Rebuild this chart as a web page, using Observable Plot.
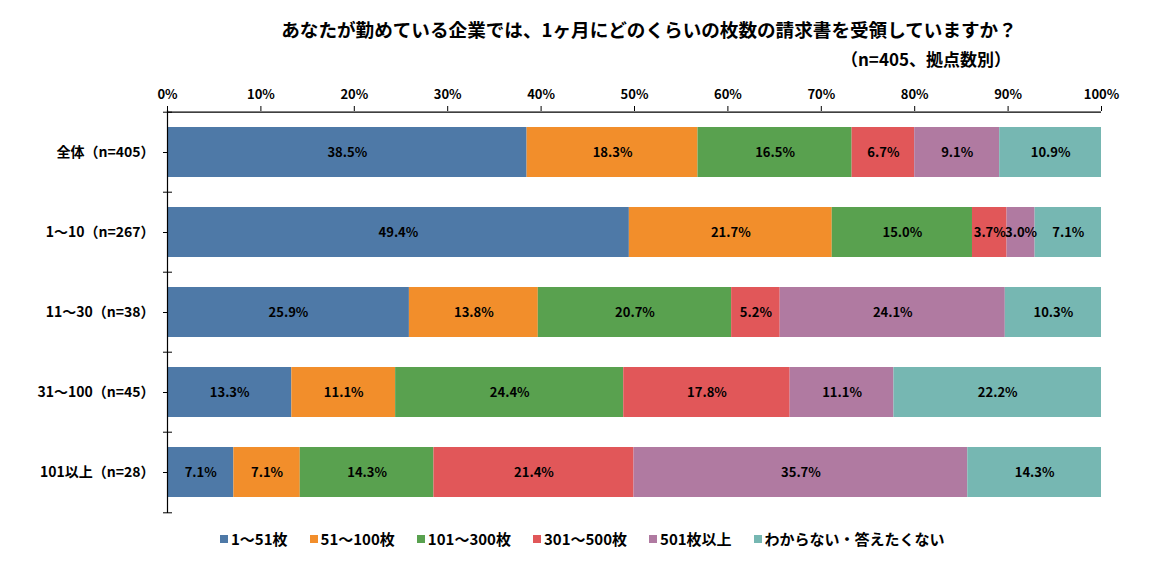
<!DOCTYPE html>
<html>
<head>
<meta charset="utf-8">
<script src="https://cdn.jsdelivr.net/npm/d3@7"></script>
<script src="https://cdn.jsdelivr.net/npm/@observablehq/plot@0.6"></script>
<style>
  body { margin: 0; background: #fff; font-family: "Noto Sans CJK JP", sans-serif; }
  #wrap { position: relative; width: 1171px; height: 588px; overflow: hidden; }
  #title { position: absolute; left: 0; top: 16px; width: 1298px; text-align: center;
           font-weight: bold; font-size: 18.6px; color: #000; line-height: 26px; }
  #subtitle { position: absolute; right: 160px; top: 46px; font-weight: bold;
              font-size: 17px; color: #000; line-height: 26px; }
  #chart { position: absolute; left: 0; top: 72px; }
  #legend { position: absolute; left: 220px; top: 522px; }
  .lg-swatch { margin-right: 22px !important; font-weight: bold; }
  .lg-swatch svg { margin-right: 3px !important; }
</style>
</head>
<body>
<div id="wrap">
  <div id="title">あなたが勤めている企業では、1ヶ月にどのくらいの枚数の請求書を受領していますか？</div>
  <div id="subtitle">（n=405、拠点数別）</div>
  <div id="chart"></div>
  <div id="legend"></div>
</div>
<script>
// Respondent groups (rows) and answer categories (stacked segments)
const categories = ["全体（n=405）", "1～10（n=267）", "11～30（n=38）", "31～100（n=45）", "101以上（n=28）"];
const series = ["1～51枚", "51～100枚", "101～300枚", "301～500枚", "501枚以上", "わからない・答えたくない"];
const colors = ["#4E79A7", "#F28E2B", "#59A14F", "#E15759", "#B07AA1", "#76B7B2"];

// Share (%) of each answer, one array per answer, in row order
const v1to51     = [38.5, 49.4, 25.9, 13.3, 7.1];
const v51to100   = [18.3, 21.7, 13.8, 11.1, 7.1];
const v101to300  = [16.5, 15.0, 20.7, 24.4, 14.3];
const v301to500  = [6.7, 3.7, 5.2, 17.8, 21.4];
const v501plus   = [9.1, 3.0, 24.1, 11.1, 35.7];
const vUnknown   = [10.9, 7.1, 10.3, 22.2, 14.3];

const xTicks = [0, 0.1, 0.2, 0.3, 0.4, 0.5, 0.6, 0.7, 0.8, 0.9, 1.0];

const seriesValues = [v1to51, v51to100, v101to300, v301to500, v501plus, vUnknown];
const data = [];
categories.forEach((cat, i) => {
  series.forEach((s, j) => data.push({cat, series: s, value: seriesValues[j][i]}));
});

const width = 1171, height = 451, marginTop = 38, marginBottom = 10, marginLeft = 167, marginRight = 70;
const step = (height - marginTop - marginBottom) / categories.length;
const font = '"Noto Sans CJK JP", sans-serif';

const stackOpts = {y: "cat", x: "value", z: "series", order: series, offset: "normalize"};

const chart = Plot.plot({
  width, height, marginTop, marginBottom, marginLeft, marginRight,
  style: {fontFamily: font, fontSize: "13px", fontWeight: "bold", color: "#000", background: "#fff"},
  x: {domain: [0, 1]},
  y: {domain: categories, paddingInner: 0.38, paddingOuter: 0.19},
  color: {domain: series, range: colors},
  marks: [
    Plot.barX(data, Plot.stackX({...stackOpts, fill: "series"})),
    Plot.textX(data, Plot.stackX({...stackOpts, text: d => d.value.toFixed(1) + "%",
      fill: "#000", fontSize: 13, fontWeight: "bold"})),
    // vertical category axis line
    Plot.ruleX([0], {stroke: "#000", strokeWidth: 1.2}),
    // horizontal value axis line along the top
    Plot.ruleY([categories[0]], {y: d => d, dy: -step / 2, x1: 0, x2: 1, stroke: "#000", strokeWidth: 1.2}),
    // tick marks at the boundaries between rows
    Plot.ruleY(categories, {y: d => d, dy: -step / 2, x1: 0, x2: 0, insetLeft: -4, insetRight: -5, stroke: "#000"}),
    Plot.ruleY([categories[categories.length - 1]], {y: d => d, dy: step / 2, x1: 0, x2: 0, insetLeft: -4, insetRight: -5, stroke: "#000"}),
    Plot.axisX({anchor: "top", ticks: xTicks, tickFormat: d3.format(".0%"), tickSize: 5, tickPadding: 7,
      label: null, fontSize: 13, fontWeight: "bold"}),
    Plot.axisY({anchor: "left", tickSize: 4, tickPadding: 9, label: null, fontSize: 14, fontWeight: "bold"})
  ]
});
document.getElementById("chart").appendChild(chart);

const legend = Plot.legend({
  color: {domain: series, range: colors},
  legend: "swatches",
  swatchSize: 8,
  className: "lg",
  style: {fontFamily: font, fontSize: "15px", fontWeight: "bold", color: "#000"}
});
document.getElementById("legend").appendChild(legend);
</script>
</body>
</html>
